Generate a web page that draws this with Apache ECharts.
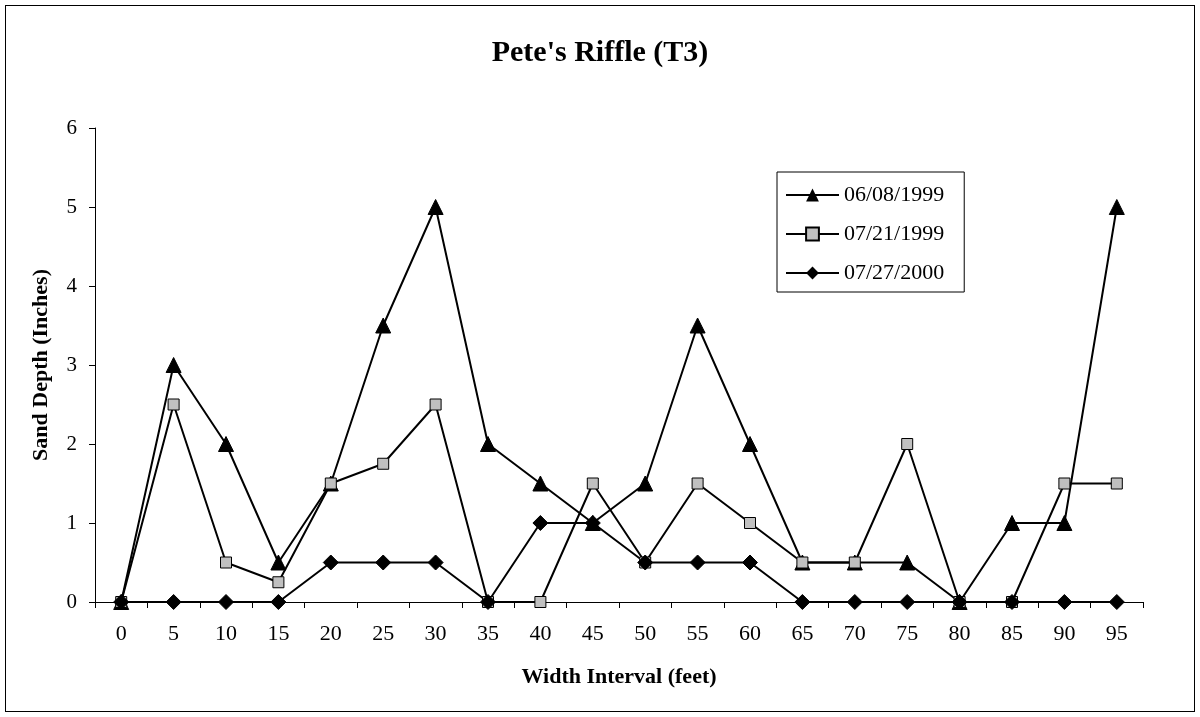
<!DOCTYPE html>
<html>
<head>
<meta charset="utf-8">
<script src="https://cdn.jsdelivr.net/npm/echarts@6/dist/echarts.min.js"></script>
<style>
  html, body { margin: 0; padding: 0; background: #fff; }
  .frame {
    position: absolute; left: 5px; top: 5px; width: 1190px; height: 707px;
    border: 1px solid #000; box-sizing: border-box;
  }
  #chart { width: 1200px; height: 717px; }
</style>
</head>
<body>
<div class="frame"></div>
<div id="chart"></div>
<script>
const categories = ['0', '5', '10', '15', '20', '25', '30', '35', '40', '45',
  '50', '55', '60', '65', '70', '75', '80', '85', '90', '95'];
const june1999 = [0, 3, 2, 0.5, 1.5, 3.5, 5, 2, 1.5, 1, 1.5, 3.5, 2, 0.5, 0.5, 0.5, 0, 1, 1, 5];
const july1999 = [0, 2.5, 0.5, 0.25, 1.5, 1.75, 2.5, 0, 0, 1.5, 0.5, 1.5, 1, 0.5, 0.5, 2, 0, 0, 1.5, 1.5];
const july2000 = [0, 0, 0, 0, 0.5, 0.5, 0.5, 0, 1, 1, 0.5, 0.5, 0.5, 0, 0, 0, 0, 0, 0, 0];

const font = '"Liberation Serif", "Times New Roman", serif';
const chart = echarts.init(document.getElementById('chart'));

chart.setOption({
  animation: false,
  backgroundColor: 'transparent',
  textStyle: { fontFamily: font, color: '#000' },
  title: {
    text: "Pete's Riffle (T3)",
    left: 'center',
    top: 33,
    textStyle: { fontFamily: font, fontSize: 30, fontWeight: 'bold', color: '#000' }
  },
  legend: {
    orient: 'vertical',
    left: 777,
    top: 172,
    padding: [12, 20, 8, 8],
    itemGap: 17,
    itemWidth: 53,
    itemHeight: 16,
    borderColor: '#000',
    borderWidth: 1,
    borderRadius: 0,
    textStyle: { fontFamily: font, fontSize: 22, lineHeight: 22, color: '#000' },
    data: ['06/08/1999', '07/21/1999', '07/27/2000']
  },
  grid: { left: 95, right: 57, top: 128, bottom: 115 },
  xAxis: {
    type: 'category',
    data: categories,
    boundaryGap: true,
    name: 'Width Interval (feet)',
    nameLocation: 'middle',
    nameGap: 64,
    nameTextStyle: { fontFamily: font, fontSize: 22, fontWeight: 'bold', color: '#000' },
    axisLine: { lineStyle: { color: '#000', width: 1 } },
    axisTick: { show: true, length: 6, lineStyle: { color: '#000' } },
    axisLabel: { fontFamily: font, fontSize: 22, color: '#000', margin: 21 },
    splitLine: { show: false }
  },
  yAxis: {
    type: 'value',
    min: 0,
    max: 6,
    interval: 1,
    name: 'Sand Depth (Inches)',
    nameLocation: 'middle',
    nameGap: 43,
    nameTextStyle: { fontFamily: font, fontSize: 22, fontWeight: 'bold', color: '#000' },
    axisLine: { show: true, lineStyle: { color: '#000', width: 1 } },
    axisTick: { show: true, length: 6, lineStyle: { color: '#000' } },
    axisLabel: { fontFamily: font, fontSize: 21, color: '#000', margin: 18 },
    splitLine: { show: false }
  },
  series: [
    {
      name: '06/08/1999',
      type: 'line',
      data: june1999,
      symbol: 'triangle',
      symbolSize: 15,
      lineStyle: { color: '#000', width: 2 },
      itemStyle: { color: '#000', borderColor: '#000' }
    },
    {
      name: '07/21/1999',
      type: 'line',
      data: july1999,
      symbol: 'rect',
      symbolSize: 11,
      lineStyle: { color: '#000', width: 2 },
      itemStyle: { color: '#c0c0c0', borderColor: '#000', borderWidth: 1 }
    },
    {
      name: '07/27/2000',
      type: 'line',
      data: july2000,
      symbol: 'diamond',
      symbolSize: 15,
      lineStyle: { color: '#000', width: 2 },
      itemStyle: { color: '#000', borderColor: '#000' }
    }
  ]
});

window.addEventListener('resize', function () {
  chart.resize();
});
</script>
</body>
</html>
